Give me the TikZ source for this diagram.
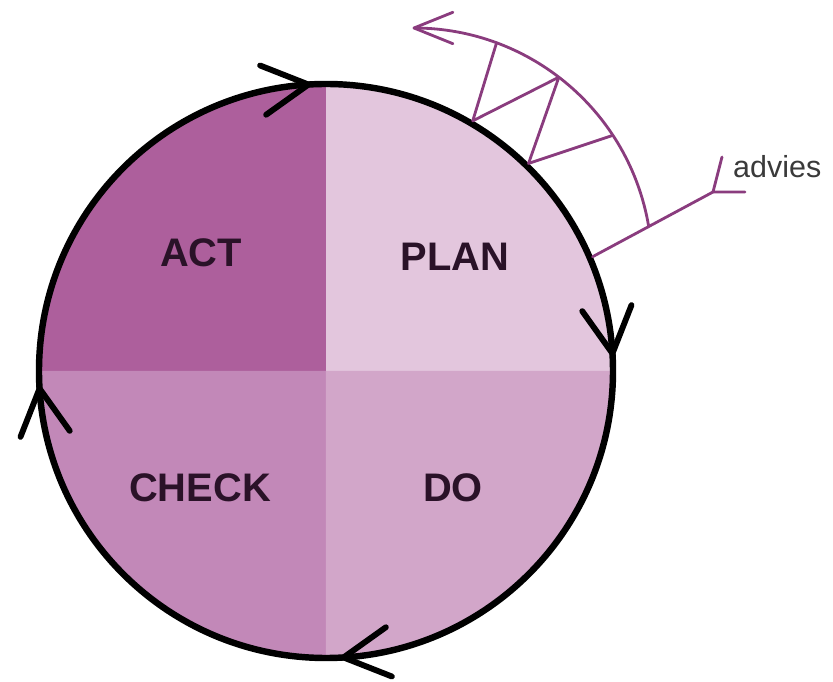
\documentclass[tikz,border=0pt]{standalone}
\usepackage{fontspec}
\setmainfont{Liberation Sans}
\usetikzlibrary{calc}
\definecolor{actc}{HTML}{AD5F9C}
\definecolor{planc}{HTML}{E3C6DD}
\definecolor{doc}{HTML}{D2A6C9}
\definecolor{checkc}{HTML}{C288B8}
\definecolor{advc}{HTML}{8A3C7E}
\definecolor{labeltext}{HTML}{2A1228}
\definecolor{advtext}{HTML}{3A3A3A}
\newcommand{\cycarrowhead}[1]{%
  \draw[cyc] ($(#1:287)+(#1+90-25:52)$) -- (#1:287) -- ($(#1:287)+(#1+90+32:52)$);}
\begin{document}
\begin{tikzpicture}[x=0.03cm,y=0.03cm,line join=round,line cap=round,
  lbl/.style={font=\fontsize{34}{36}\selectfont\bfseries,text=labeltext,inner sep=0pt},
  ring/.style={line width=5.5pt,black},
  cyc/.style={line width=5pt,black},
  adv/.style={line width=2.4pt,advc}]
\useasboundingbox (-326,-311) rectangle (507,371);
\coordinate (O) at (0,0);
% quadrants
\fill[planc]  (O) -- (0:287)   arc[start angle=0,end angle=90,radius=287] -- cycle;
\fill[actc]   (O) -- (90:287)  arc[start angle=90,end angle=180,radius=287] -- cycle;
\fill[checkc] (O) -- (180:287) arc[start angle=180,end angle=270,radius=287] -- cycle;
\fill[doc]    (O) -- (270:287) arc[start angle=270,end angle=360,radius=287] -- cycle;
\draw[ring] (O) circle[radius=287];
% cycle arrowheads (clockwise)
\cycarrowhead{93.5}
\cycarrowhead{3.5}
\cycarrowhead{-86.5}
\cycarrowhead{183.5}
% labels
\node[lbl] (act)   at (-125,118)  {ACT};
\node[lbl] (plan)  at (129,114)   {PLAN};
\node[lbl] (check) at (-126,-117) {CHECK};
\node[lbl] (do)    at (127,-117)  {DO};
% advies arrow
\coordinate (AC) at (88,105);
\coordinate (tipA) at ([shift={(AC)}]90:238);
\coordinate (arcE) at ([shift={(AC)}]9.5:238);
\coordinate (P1) at ([shift={(AC)}]69.7:238);
\coordinate (P2) at ([shift={(AC)}]52.5:238);
\coordinate (P3) at ([shift={(AC)}]33.3:238);
\coordinate (Q1) at (59.6:290);
\coordinate (Q2) at (45.7:290);
\coordinate (S)  at (23.2:290);
\coordinate (F)  at (387,179);
\coordinate (F1) at (396,214);
\coordinate (F2) at (419,179);
\draw[adv] (arcE) arc[start angle=9.5,end angle=90,radius=238];
\draw[adv] ($(tipA)+(22:42)$) -- (tipA) -- ($(tipA)+(-22:42)$);
\draw[adv] (P1) -- (Q1) -- (P2) -- (Q2) -- (P3);
\draw[adv] (S) -- (F);
\draw[adv] (F1) -- (F) -- (F2);
\node[font=\fontsize{26}{28}\selectfont,text=advtext,inner sep=0pt,anchor=base west] (adv) at (407,193) {advies};
\end{tikzpicture}
\end{document}
